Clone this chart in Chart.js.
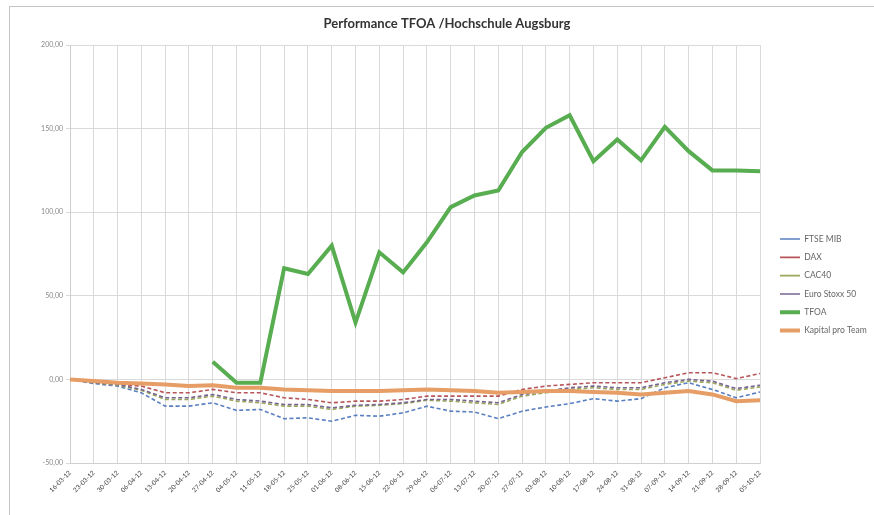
<!DOCTYPE html>
<html><head><meta charset="utf-8">
<script src="https://cdn.jsdelivr.net/npm/chart.js@4.4.1/dist/chart.umd.min.js"></script>
<style>
html,body{margin:0;padding:0;background:#fff;overflow:hidden}
#wrap{position:relative;width:874px;height:515px}
#frame{position:absolute;left:9px;top:6px;width:900px;height:600px;border-left:1px solid #c4c4c4;border-top:1px solid #c4c4c4;pointer-events:none}
</style></head><body>
<div id="wrap"><canvas id="c" width="874" height="515"></canvas><div id="frame"></div></div>
<script>
const labels = ['16-03-12','23-03-12','30-03-12','06-04-12','13-04-12','20-04-12','27-04-12','04-05-12','11-05-12','18-05-12','25-05-12','01-06-12','08-06-12','15-06-12','22-06-12','29-06-12','06-07-12','13-07-12','20-07-12','27-07-12','03-08-12','10-08-12','17-08-12','24-08-12','31-08-12','07-09-12','14-09-12','21-09-12','28-09-12','05-10-12'];
const ftseMib = [0,-2.5,-4,-8,-16,-16,-14,-18.5,-18,-23.5,-23,-25,-21.5,-22,-20,-16,-19,-19.5,-23.5,-19,-16.5,-14.5,-11.5,-13,-11.5,-5,-2,-6,-11,-7.5];
const dax = [0,-1,-3,-4,-8,-8,-6,-8,-8,-11,-12,-14,-13,-13,-12,-10,-10,-10,-10,-6,-4,-3,-2,-2,-2,1,4,4,0.5,3.5];
const cac40 = [0,-2,-3.5,-6.5,-12,-12,-10,-13,-14,-16,-16,-18,-16,-15.5,-14.5,-12.5,-13,-14,-15,-10,-8,-6,-5,-6,-6,-3,-1,-2,-6.5,-4.5];
const euroStoxx50 = [0,-2,-3,-6,-11,-11,-9,-12,-13,-15,-15,-17,-15.5,-15,-14,-12,-12,-13,-14,-9,-7,-5,-4,-5,-5,-2,0,-1,-5.5,-3.5];
const tfoa = [null,null,null,null,null,null,10.5,-2,-2,66.5,63,80,34,76,64,82,103,110,113,136,150.5,158,130.5,143.5,131,151,136.5,125,125,124.5];
const kapitalProTeam = [0,-1,-2,-2.5,-3,-4,-3.5,-5,-5,-6,-6.5,-7,-7,-7,-6.5,-6,-6.5,-7,-8,-7.5,-7,-7,-7.5,-8,-9,-8,-7,-9,-13,-12.5];
const yTickValues = [-50,0,50,100,150,200];
const fmt = v => Number(v).toFixed(2).replace('.', ',');

const placeBoxes = {
  id: 'placeBoxes',
  beforeDraw(chart) {
    const lg = chart.legend;
    if (lg) {
      const pad = lg.options.labels.padding;
      const w = lg.right - lg.left, h = lg.bottom - lg.top;
      lg.left = 780 - pad; lg.right = lg.left + w;
      lg.top = 225; lg.bottom = lg.top + h;
    }
    const t = chart.titleBlock;
    if (t) { t.left = 20; t.right = 874; }
  }
};

function ds(label, data, color, width, dash, order) {
  return { label, data, borderColor: color, backgroundColor: color, borderWidth: width,
    borderDash: dash, pointRadius: 0, pointHoverRadius: 0, tension: 0, fill: false, order, spanGaps: false };
}

const chart = new Chart(document.getElementById('c'), {
  type: 'line',
  data: {
    labels,
    datasets: [
      ds('FTSE MIB', ftseMib, '#5a7fc0', 1.6, [4,2.5], 6),
      ds('DAX', dax, '#b8555a', 1.6, [4,2.5], 5),
      ds('CAC40', cac40, '#9aa85a', 1.6, [4,2.5], 4),
      ds('Euro Stoxx 50', euroStoxx50, '#76648f', 1.6, [4,2.5], 3),
      ds('TFOA', tfoa, '#57ad50', 4, [], 2),
      ds('Kapital pro Team', kapitalProTeam, '#e69e66', 4, [], 1)
    ]
  },
  options: {
    responsive: false,
    devicePixelRatio: 1,
    animation: false,
    layout: { padding: { left: 0, right: 0, top: 0, bottom: 0 } },
    plugins: {
      title: { display: true, text: 'Performance TFOA /Hochschule Augsburg', color: '#333',
        font: { family: 'Lato', size: 13, weight: 'bold' }, padding: { top: 16, bottom: 13.4 } },
      legend: { position: 'right', align: 'start',
        labels: { usePointStyle: true, pointStyle: 'line', pointStyleWidth: 20, boxHeight: 7,
          padding: 9.8, color: '#666', font: { family: 'Lato', size: 8.5 },
          sort: (a, b) => a.datasetIndex - b.datasetIndex } },
      tooltip: { enabled: false }
    },
    scales: {
      x: {
        afterFit: s => { s.height = 52; },
        ticks: { autoSkip: false, maxRotation: 45, minRotation: 45, color: '#444',
          font: { family: 'Lato', size: 6.5 }, padding: 6 },
        grid: { color: '#d9d9d9', drawTicks: false },
        border: { color: '#cfcfcf' }
      },
      y: {
        min: -50, max: 200,
        afterBuildTicks: s => { s.ticks = yTickValues.map(v => ({ value: v })); },
        afterFit: s => { s.width = 70; },
        ticks: { callback: v => fmt(v), color: '#888', font: { family: 'Lato', size: 7 }, padding: 3 },
        grid: { color: '#d9d9d9', tickLength: 4 },
        border: { color: '#cfcfcf' }
      }
    }
  },
  plugins: [placeBoxes]
});
const diff = chart.chartArea.right - 760;
chart.options.layout.padding.right += diff;
chart.update('none');
</script>
</body></html>
